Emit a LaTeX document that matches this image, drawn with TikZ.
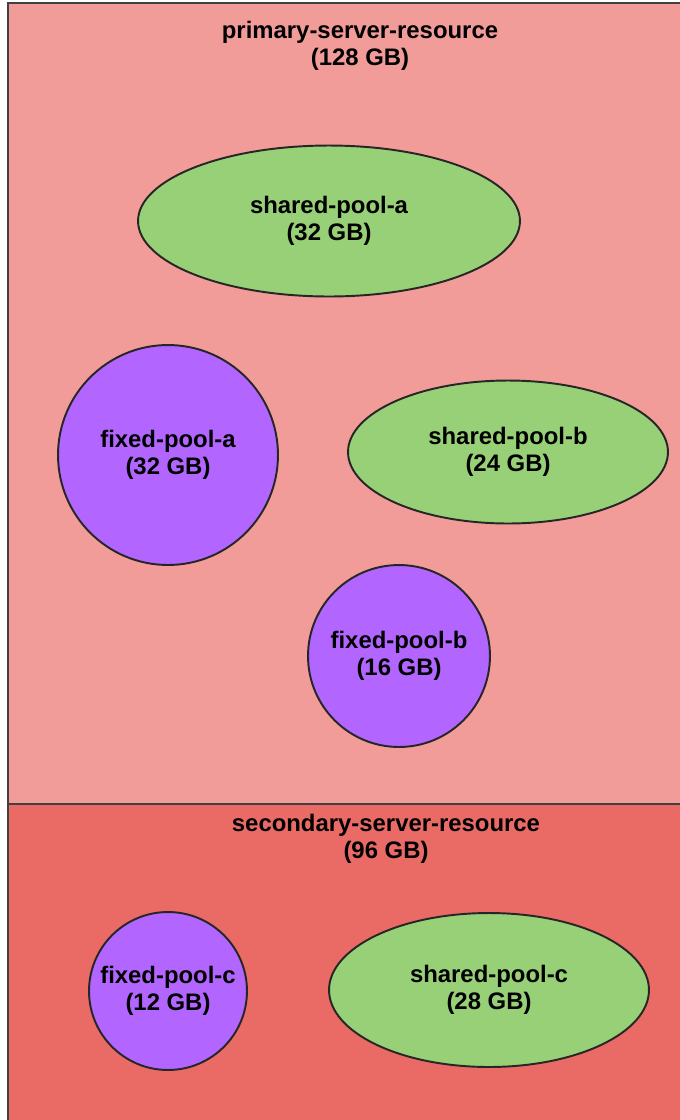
\documentclass[tikz,border=0pt]{standalone}
\usepackage{fontspec}
\setmainfont{Liberation Sans}
\usepackage{tikz}
\usetikzlibrary{shapes}
\usetikzlibrary{shapes.geometric}
\definecolor{primaryred}{HTML}{F19C99}
\definecolor{secondaryred}{HTML}{EA6B66}
\definecolor{poolgreen}{HTML}{97D077}
\definecolor{poolpurple}{HTML}{B266FF}
\newcommand{\pooltext}[2]{#1\\(#2 GB)}
\begin{document}
\begin{tikzpicture}[x=0.02cm,y=-0.02cm,
        font=\fontsize{13.6}{15.2}\selectfont\bfseries,
        resource/.style={draw=black!75,line width=1.1pt},
        sharedpool/.style={ellipse,draw=black!85,line width=1.1pt,fill=poolgreen,inner sep=0pt,align=center},
        fixedpool/.style={circle,draw=black!85,line width=1.1pt,fill=poolpurple,inner sep=0pt,align=center}]
        \useasboundingbox (0,0) rectangle (680,1120);
        \clip (0,0) rectangle (680,1120);
        %servers
        \filldraw[resource,fill=primaryred] (8,3) rectangle (780,804);
        \filldraw[resource,fill=secondaryred] (8,804) rectangle (780,1200);
        \node[align=center] (primary) at (360,46) {\pooltext{primary-server-resource}{128}};
        \node[align=center] (secondary) at (386,839) {\pooltext{secondary-server-resource}{96}};
        %pools
        \node[sharedpool,minimum width=7.64cm,minimum height=3.02cm] (sharedA) at (329,221) {\pooltext{shared-pool-a}{32}};
        \node[fixedpool,minimum size=4.4cm] (fixedA) at (168,455) {\pooltext{fixed-pool-a}{32}};
        \node[sharedpool,minimum width=6.4cm,minimum height=2.86cm] (sharedB) at (508,452) {\pooltext{shared-pool-b}{24}};
        \node[fixedpool,minimum size=3.64cm] (fixedB) at (399,656) {\pooltext{fixed-pool-b}{16}};
        \node[fixedpool,minimum size=3.16cm] (fixedC) at (168,991) {\pooltext{fixed-pool-c}{12}};
        \node[sharedpool,minimum width=6.4cm,minimum height=3.08cm] (sharedC) at (489,990) {\pooltext{shared-pool-c}{28}};
    \end{tikzpicture}
\end{document}
